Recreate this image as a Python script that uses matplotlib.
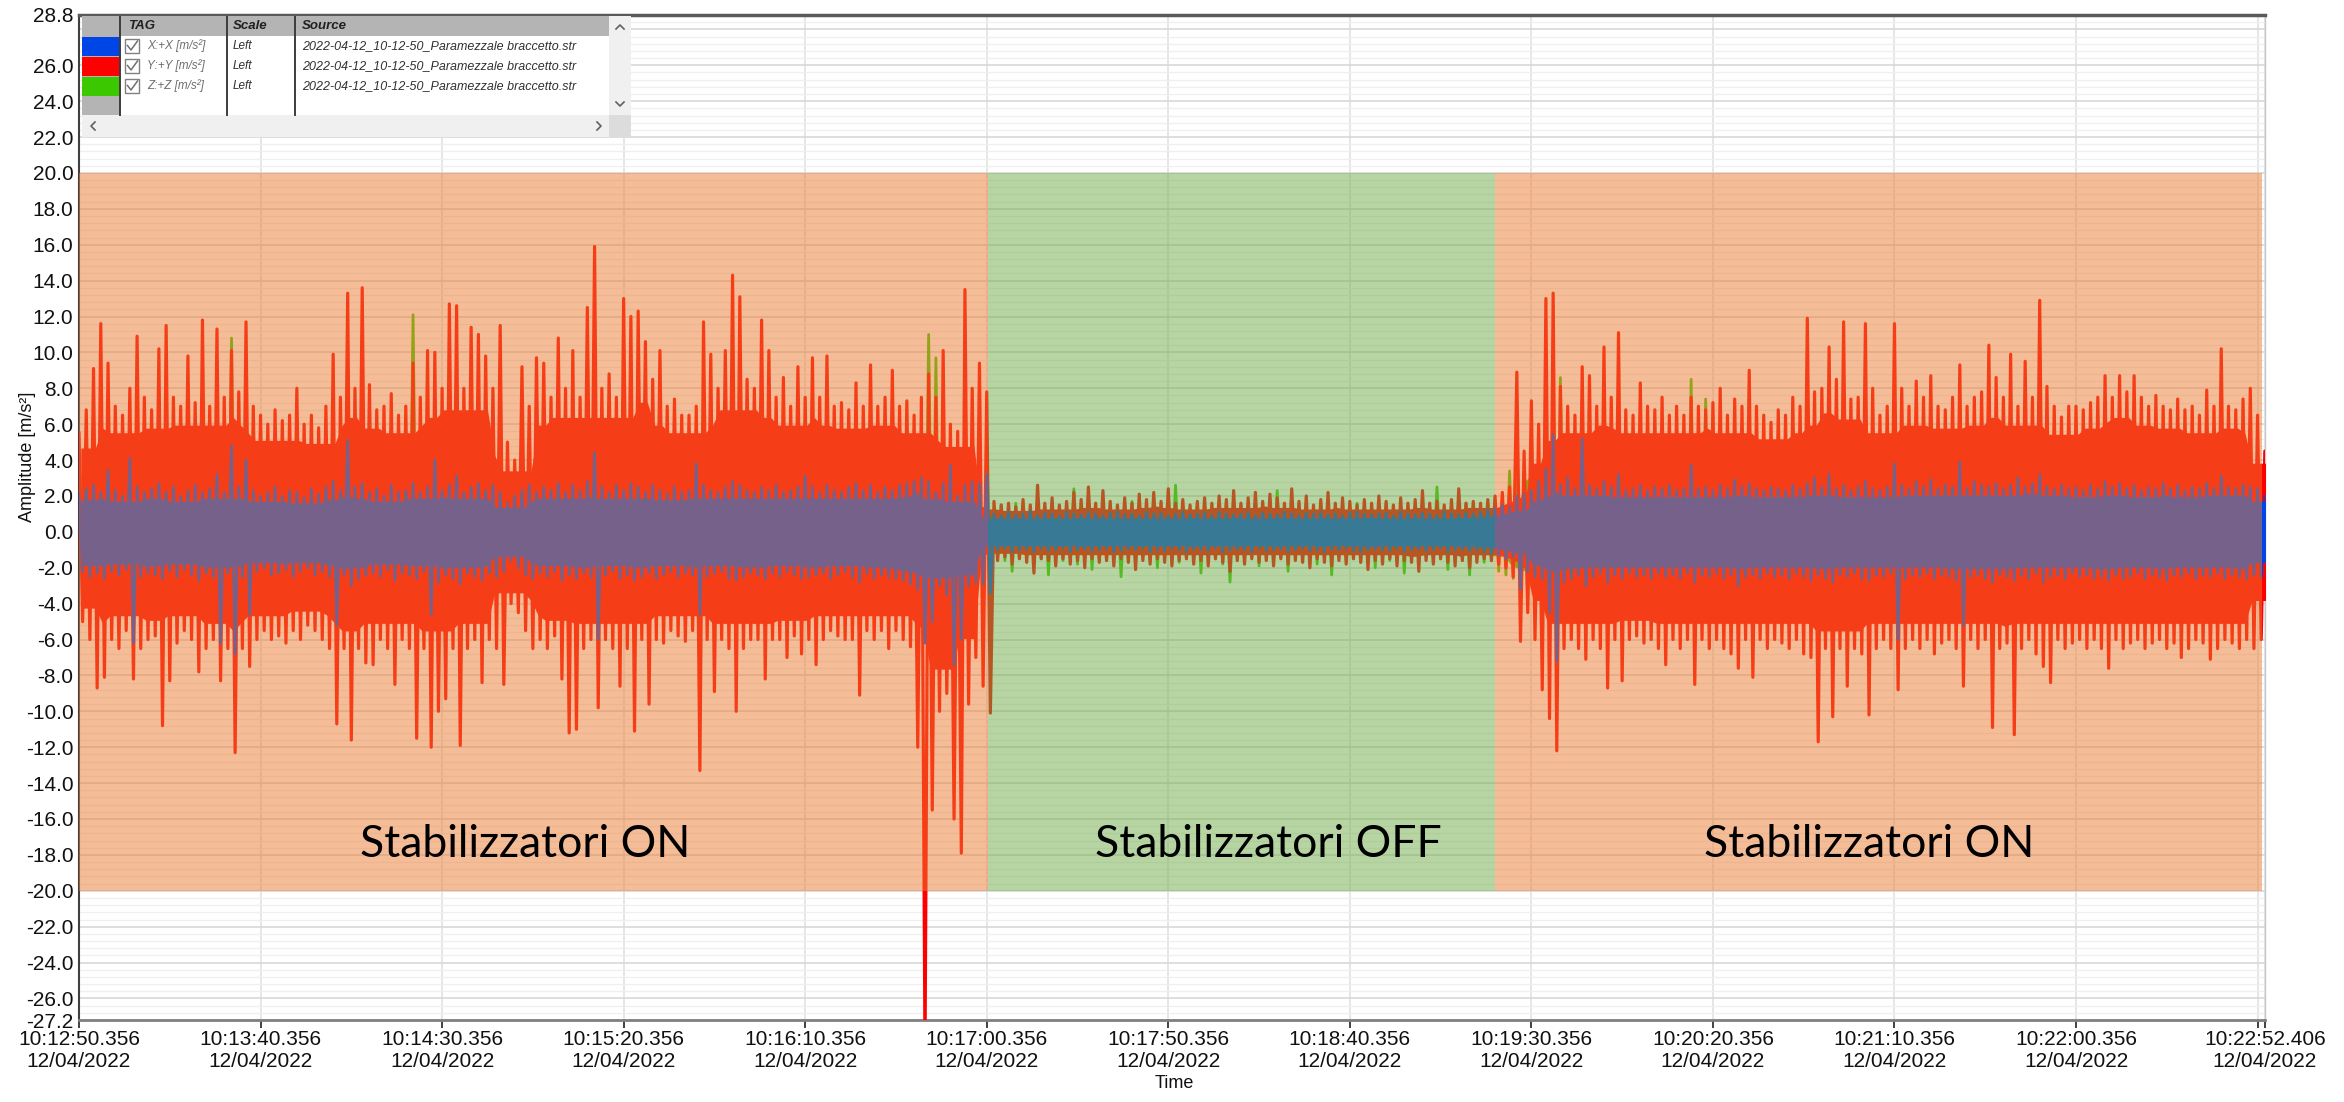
import matplotlib.pyplot as plt
import numpy as np
from matplotlib.patches import Rectangle

plt.rcParams['font.family'] = ['Liberation Sans', 'DejaVu Sans']

# Peak envelopes of the three accelerometer channels, one value per 2 s bin
# (t = 0 s at 10:12:50.356). Units: m/s^2.
bin_seconds = 2.0

y_upper = [
    5.5, 6.8, 9.1, 11.6, 9.4, 7.0, 6.5, 8.0, 10.9, 7.5, 6.8, 10.2, 11.5, 7.5, 7.0, 9.8, 7.2, 11.8, 7.0, 11.3,
    7.5, 10.1, 7.8, 11.7, 7.0, 6.5, 6.0, 6.8, 6.2, 6.5, 8.0, 6.0, 6.5, 5.8, 7.0, 9.9, 7.5, 13.3, 8.0, 13.6,
    8.2, 6.8, 7.0, 7.7, 6.5, 7.0, 9.4, 7.5, 10.1, 10.0, 8.0, 12.7, 12.6, 8.0, 11.4, 11.0, 9.8, 8.0, 11.5, 5.0,
    4.0, 9.2, 7.0, 9.7, 9.4, 7.5, 10.8, 8.0, 10.1, 7.5, 12.5, 15.9, 8.0, 8.8, 7.5, 13.0, 12.0, 12.3, 10.6, 8.5,
    10.1, 7.0, 7.4, 6.5, 6.5, 7.0, 11.7, 9.9, 8.0, 10.1, 14.3, 13.1, 8.5, 8.0, 11.8, 10.1, 7.5, 8.6, 7.0, 9.2,
    7.5, 9.7, 7.5, 9.8, 7.0, 7.2, 6.8, 8.3, 7.0, 9.3, 7.0, 7.5, 9.0, 7.0, 7.3, 6.5, 7.5, 8.8, 7.5, 10.1,
    6.0, 5.6, 13.5, 8.0, 9.4, 7.8, 1.7, 1.5, 1.6, 1.4, 1.8, 1.5, 2.6, 1.6, 1.9, 1.5, 1.7, 2.2, 1.8, 2.5,
    1.6, 2.3, 1.7, 1.5, 1.9, 1.6, 2.1, 1.8, 2.2, 1.7, 2.4, 1.6, 1.8, 1.5, 1.7, 1.9, 1.6, 2.0, 1.8, 2.3,
    1.6, 1.9, 2.2, 1.7, 2.1, 1.9, 1.6, 2.4, 1.7, 2.0, 1.5, 1.8, 2.2, 1.6, 1.9, 1.7, 1.5, 1.8, 1.6, 2.0,
    1.7, 1.5, 1.9, 1.6, 1.8, 2.3, 1.6, 1.7, 1.5, 1.8, 2.4, 1.6, 1.7, 1.6, 1.8, 2.0, 2.2, 2.5, 8.9, 4.5,
    7.3, 6.0, 13.0, 13.3, 8.1, 7.0, 6.5, 9.2, 8.7, 7.0, 10.3, 7.5, 11.1, 6.8, 6.5, 8.3, 7.0, 6.8, 7.5, 6.5,
    7.0, 6.5, 7.5, 7.0, 6.8, 7.2, 8.0, 6.5, 7.4, 7.0, 9.0, 7.0, 6.5, 6.1, 6.8, 6.5, 7.5, 7.0, 11.9, 7.8,
    8.0, 10.3, 8.5, 11.7, 7.4, 7.5, 11.6, 8.0, 6.5, 7.0, 11.6, 8.0, 7.0, 8.4, 7.5, 8.7, 7.0, 6.8, 7.5, 9.3,
    7.0, 7.5, 7.8, 10.4, 8.6, 7.5, 9.9, 7.0, 9.5, 7.5, 12.9, 8.1, 7.0, 6.4, 7.0, 7.0, 6.8, 7.2, 7.5, 8.7,
    7.5, 8.7, 7.8, 8.7, 7.5, 7.0, 7.6, 7.0, 6.8, 7.4, 6.8, 7.0, 6.5, 7.9, 7.0, 10.2, 7.0, 6.8, 7.4, 8.0,
    6.5, 4.5,
]
y_lower = [
    -5.0, -6.0, -8.7, -8.1, -6.0, -6.5, -5.5, -8.2, -6.5, -6.0, -5.8, -10.8, -8.3, -6.2, -5.5, -6.0, -7.8, -6.5, -6.0, -8.3,
    -6.5, -12.3, -6.5, -7.5, -6.0, -5.5, -6.0, -5.8, -6.2, -5.5, -6.0, -5.2, -5.5, -6.0, -6.5, -10.7, -6.5, -11.6, -6.5, -7.3,
    -7.4, -6.0, -6.5, -8.5, -6.0, -6.5, -11.5, -6.5, -12.0, -10.0, -9.3, -6.5, -11.9, -6.5, -6.0, -8.4, -6.0, -6.5, -8.5, -4.0,
    -4.5, -5.5, -6.5, -6.0, -6.5, -5.8, -8.2, -11.2, -11.0, -6.5, -6.0, -9.8, -6.0, -6.5, -8.6, -6.5, -11.1, -6.0, -9.6, -6.0,
    -6.2, -5.5, -5.8, -6.1, -5.5, -13.3, -6.0, -8.9, -6.0, -6.5, -10.0, -6.5, -6.0, -6.0, -8.2, -6.0, -6.0, -7.0, -5.8, -6.8,
    -6.0, -7.4, -6.0, -5.5, -5.8, -6.0, -6.0, -9.1, -5.5, -6.0, -5.5, -6.5, -5.5, -6.0, -6.4, -12.0, -29.0, -15.5, -10.0, -9.0,
    -16.0, -17.9, -9.6, -7.0, -8.6, -10.1, -1.6, -1.4, -1.8, -1.5, -1.7, -2.3, -1.5, -1.6, -1.9, -1.5, -1.8, -1.6, -2.0, -1.5,
    -1.7, -1.6, -1.9, -1.5, -1.7, -2.1, -1.6, -1.8, -1.5, -1.7, -1.9, -1.6, -1.5, -1.8, -1.6, -1.9, -1.5, -1.7, -2.2, -1.6,
    -1.8, -1.5, -1.7, -1.6, -1.9, -1.5, -1.8, -1.6, -1.7, -2.0, -1.5, -1.7, -1.9, -1.6, -1.8, -1.5, -1.7, -2.1, -1.6, -1.8,
    -1.5, -1.9, -1.6, -1.7, -2.2, -1.6, -1.8, -1.5, -1.7, -1.9, -1.6, -2.0, -1.7, -1.5, -1.6, -1.8, -2.0, -2.5, -6.1, -4.5,
    -6.0, -8.8, -10.4, -12.2, -6.5, -6.0, -6.5, -7.1, -6.0, -6.5, -8.7, -6.0, -8.3, -6.0, -5.8, -6.2, -6.0, -6.5, -7.4, -6.0,
    -6.5, -6.0, -8.5, -6.0, -6.5, -6.0, -6.5, -6.8, -7.6, -6.0, -8.1, -6.0, -6.5, -6.0, -6.2, -6.5, -6.0, -6.8, -7.0, -11.7,
    -6.5, -10.3, -6.5, -8.6, -6.5, -6.8, -10.2, -6.5, -6.0, -6.5, -8.8, -6.5, -6.0, -6.5, -6.0, -6.8, -6.2, -6.0, -6.5, -8.6,
    -6.0, -6.5, -6.0, -10.9, -6.5, -6.2, -11.3, -6.5, -6.0, -6.8, -7.5, -8.4, -6.0, -6.5, -6.2, -6.0, -6.5, -6.0, -6.5, -7.6,
    -6.0, -6.5, -6.2, -6.0, -6.5, -6.2, -6.0, -6.5, -6.2, -7.0, -6.5, -6.0, -6.2, -7.1, -6.5, -6.0, -6.2, -6.5, -6.0, -6.5,
    -6.0, -4.5,
]
x_upper = [
    2.1, 2.4, 2.6, 2.2, 3.4, 2.3, 2.0, 4.1, 2.5, 2.2, 2.4, 2.7, 2.2, 2.5, 2.0, 2.3, 2.6, 2.2, 2.4, 3.2,
    2.2, 4.8, 2.5, 4.0, 2.3, 2.0, 2.2, 2.5, 2.0, 2.3, 2.2, 1.9, 2.4, 2.1, 2.5, 2.8, 2.3, 5.1, 2.5, 2.7,
    2.2, 2.4, 2.0, 2.6, 2.2, 2.3, 2.7, 2.2, 2.5, 4.0, 2.3, 2.6, 3.1, 2.2, 2.5, 2.7, 2.3, 2.6, 2.2, 1.6,
    2.0, 2.3, 2.6, 2.2, 2.5, 2.3, 2.7, 2.2, 2.6, 2.3, 2.8, 4.4, 2.5, 2.2, 2.6, 2.3, 2.7, 2.5, 2.2, 2.6,
    2.3, 2.1, 2.5, 2.2, 2.3, 3.8, 2.6, 2.3, 2.2, 2.5, 2.8, 2.6, 2.3, 2.2, 2.5, 2.3, 2.6, 2.2, 2.3, 2.5,
    3.1, 2.5, 2.2, 2.6, 2.3, 2.2, 2.5, 2.7, 2.3, 2.6, 2.2, 2.5, 2.3, 2.6, 2.7, 2.8, 3.0, 2.8, 2.2, 2.7,
    3.7, 2.0, 2.6, 2.8, 2.7, 3.2, 1.0, 0.9, 1.1, 0.95, 1.0, 1.15, 0.9, 1.05, 1.0, 0.9, 1.1, 1.0, 0.95, 1.1,
    1.0, 0.9, 1.05, 1.1, 0.95, 1.0, 0.9, 1.1, 1.0, 1.05, 0.9, 1.0, 1.1, 0.95, 1.0, 1.05, 0.9, 1.1, 1.0, 0.95,
    1.0, 1.1, 0.9, 1.05, 1.0, 0.95, 1.1, 1.0, 0.9, 1.05, 1.0, 1.1, 0.95, 1.0, 0.9, 1.05, 1.1, 1.0, 0.95, 1.0,
    1.05, 0.9, 1.1, 1.0, 0.95, 1.05, 1.0, 0.9, 1.1, 1.0, 0.95, 1.05, 1.0, 1.1, 1.2, 1.3, 1.5, 1.4, 2.0, 2.1,
    2.3, 2.8, 3.5, 5.4, 2.6, 3.0, 2.4, 5.2, 2.6, 2.4, 2.8, 2.5, 3.2, 2.3, 2.4, 2.6, 2.3, 2.5, 2.4, 2.6,
    2.3, 2.4, 3.7, 2.4, 2.5, 2.3, 2.6, 2.4, 2.9, 2.5, 2.7, 2.4, 2.3, 2.5, 2.4, 2.3, 2.6, 2.4, 2.7, 3.0,
    2.5, 3.2, 2.4, 2.6, 2.3, 2.5, 2.8, 2.4, 2.3, 2.5, 3.8, 2.6, 2.4, 2.8, 2.5, 2.9, 2.4, 2.6, 2.5, 3.9,
    2.4, 2.8, 2.6, 2.5, 2.7, 2.4, 2.6, 3.0, 2.5, 2.7, 3.2, 2.5, 2.4, 2.6, 2.4, 2.5, 2.3, 2.6, 2.4, 2.8,
    2.5, 2.7, 2.4, 2.6, 2.3, 2.5, 2.4, 2.7, 2.4, 2.6, 2.3, 2.5, 2.4, 2.7, 2.4, 3.1, 2.5, 2.4, 2.6, 2.5,
    2.4, 2.0,
]
x_lower = [
    -2.2, -2.5, -2.3, -2.6, -2.2, -2.4, -2.1, -6.2, -2.5, -2.3, -2.4, -2.6, -2.2, -2.5, -2.1, -2.4, -2.7, -2.3, -2.5, -6.2,
    -2.3, -6.8, -2.5, -4.6, -2.2, -2.0, -2.4, -2.3, -2.1, -2.5, -2.2, -2.0, -2.4, -2.2, -2.5, -5.2, -2.4, -3.0, -2.6, -2.4,
    -2.3, -2.5, -2.1, -2.7, -2.3, -2.4, -2.6, -2.2, -4.6, -2.8, -2.4, -2.6, -2.9, -2.3, -2.5, -2.7, -2.3, -2.5, -2.2, -1.6,
    -2.0, -2.4, -2.6, -2.3, -2.5, -2.2, -2.7, -2.4, -2.6, -2.3, -2.5, -6.0, -2.4, -2.2, -2.6, -2.4, -2.7, -2.5, -2.3, -2.6,
    -2.4, -2.2, -2.5, -2.3, -2.4, -4.6, -2.5, -2.3, -2.2, -2.6, -2.7, -2.5, -2.3, -2.4, -2.6, -2.3, -2.5, -2.2, -2.4, -2.6,
    -2.5, -2.4, -2.3, -2.6, -2.4, -2.2, -2.5, -2.8, -2.3, -2.6, -2.4, -2.5, -2.6, -2.7, -2.9, -3.2, -6.2, -5.0, -3.0, -3.5,
    -7.4, -6.0, -3.0, -2.8, -2.9, -3.4, -1.0, -0.9, -1.1, -1.0, -0.95, -1.1, -0.9, -1.05, -1.0, -0.9, -1.1, -1.0, -0.95, -1.05,
    -1.0, -0.9, -1.1, -1.05, -0.95, -1.0, -0.9, -1.1, -1.0, -1.05, -0.9, -1.0, -1.1, -0.95, -1.0, -1.05, -0.9, -1.1, -1.0, -0.95,
    -1.0, -1.1, -0.9, -1.05, -1.0, -0.95, -1.1, -1.0, -0.9, -1.05, -1.0, -1.1, -0.95, -1.0, -0.9, -1.05, -1.1, -1.0, -0.95, -1.0,
    -1.05, -0.9, -1.1, -1.0, -0.95, -1.05, -1.0, -0.9, -1.1, -1.0, -0.95, -1.05, -1.0, -1.1, -1.2, -1.3, -1.5, -1.4, -3.2, -2.2,
    -2.5, -2.6, -4.5, -7.2, -2.8, -2.6, -2.4, -3.0, -2.5, -2.3, -2.8, -2.4, -2.6, -2.3, -2.5, -2.4, -2.6, -2.3, -2.5, -2.4,
    -2.6, -2.3, -2.8, -2.4, -2.5, -2.3, -2.6, -2.4, -3.0, -2.5, -2.4, -2.6, -2.3, -2.5, -2.4, -2.6, -2.3, -2.5, -2.7, -2.4,
    -2.6, -2.8, -2.4, -2.5, -2.3, -2.6, -2.7, -2.4, -2.5, -2.3, -6.0, -2.6, -2.4, -2.5, -2.3, -2.6, -2.4, -2.5, -2.7, -5.2,
    -2.5, -2.4, -2.6, -2.8, -2.4, -2.5, -2.7, -2.4, -2.6, -2.3, -2.8, -2.5, -2.4, -2.6, -2.3, -2.5, -2.4, -2.6, -2.5, -2.7,
    -2.4, -2.6, -2.5, -2.3, -2.6, -2.4, -2.5, -2.7, -2.4, -2.5, -2.3, -2.6, -2.4, -2.5, -2.3, -2.6, -2.4, -2.5, -2.6, -2.4,
    -2.5, -2.0,
]
z_upper = [
    4.0, 4.5, 3.8, 4.2, 4.6, 3.9, 4.1, 4.4, 3.8, 4.2, 4.5, 4.0, 4.3, 3.9, 4.1, 4.4, 3.8, 4.2, 4.0, 4.5,
    4.1, 10.8, 4.0, 4.3, 3.9, 4.2, 4.0, 3.8, 4.1, 4.3, 3.9, 4.0, 4.2, 3.8, 4.1, 4.4, 3.9, 4.2, 4.0, 4.3,
    4.1, 3.9, 4.2, 4.0, 4.3, 3.9, 12.1, 4.0, 4.2, 4.4, 4.0, 4.3, 3.9, 4.1, 4.2, 3.8, 4.0, 4.3, 3.9, 3.0,
    3.5, 4.0, 4.2, 3.9, 4.1, 4.3, 4.0, 4.2, 3.9, 4.4, 4.1, 4.5, 4.0, 4.2, 3.9, 4.3, 4.1, 4.0, 4.2, 3.9,
    4.1, 4.0, 4.2, 3.9, 4.1, 4.3, 4.0, 4.2, 3.9, 4.1, 4.4, 4.0, 4.2, 3.9, 4.1, 4.0, 4.3, 3.9, 4.1, 4.0,
    4.2, 3.9, 4.1, 4.0, 4.3, 3.9, 4.1, 4.2, 4.0, 4.3, 3.9, 4.1, 4.2, 4.0, 4.5, 4.4, 4.6, 11.0, 9.7, 4.5,
    4.2, 4.0, 4.8, 4.5, 4.6, 5.0, 1.3, 1.5, 1.2, 1.6, 1.4, 1.3, 1.7, 1.4, 1.5, 1.2, 1.6, 2.4, 1.4, 1.5,
    1.3, 1.6, 1.4, 1.2, 1.5, 1.7, 1.3, 1.4, 1.6, 1.2, 1.5, 2.6, 1.4, 1.3, 1.6, 1.5, 1.2, 1.4, 1.7, 1.3,
    1.5, 1.4, 1.6, 1.2, 1.5, 2.3, 1.4, 1.3, 1.6, 1.5, 1.2, 1.4, 1.7, 1.3, 1.5, 1.4, 1.6, 1.2, 1.5, 1.4,
    1.6, 1.3, 1.5, 1.4, 1.2, 1.6, 1.4, 2.5, 1.3, 1.5, 1.4, 1.6, 1.5, 1.3, 1.6, 1.8, 1.9, 3.4, 4.0, 3.8,
    4.2, 4.0, 4.5, 4.3, 8.6, 4.1, 4.3, 4.0, 5.4, 4.2, 4.1, 4.4, 4.0, 4.2, 3.9, 4.3, 4.1, 4.0, 4.2, 3.9,
    4.1, 4.0, 8.5, 4.2, 7.4, 4.0, 4.3, 4.1, 3.9, 4.2, 4.0, 4.4, 4.1, 3.9, 4.2, 4.0, 4.3, 4.1, 3.9, 4.2,
    4.0, 4.3, 4.1, 3.9, 4.2, 4.0, 4.4, 4.1, 3.9, 4.2, 4.6, 4.0, 4.3, 4.1, 3.9, 4.2, 4.0, 4.4, 4.1, 3.9,
    4.2, 4.0, 4.3, 4.1, 3.9, 4.2, 4.0, 4.4, 4.1, 3.9, 4.2, 4.0, 4.3, 4.1, 3.9, 4.2, 4.0, 4.4, 4.1, 4.2,
    4.0, 4.3, 4.1, 3.9, 4.2, 4.0, 4.4, 4.1, 3.9, 4.2, 4.0, 4.3, 4.1, 3.9, 4.2, 6.6, 4.0, 4.3, 4.1, 3.9,
    4.0, 3.0,
]
z_lower = [
    -4.0, -4.4, -3.8, -4.2, -4.5, -3.9, -4.1, -4.3, -3.8, -4.2, -4.4, -4.0, -4.2, -3.9, -4.1, -4.3, -3.8, -4.2, -4.0, -4.4,
    -4.1, -4.3, -3.9, -4.2, -4.0, -3.8, -4.1, -4.3, -3.9, -4.0, -4.2, -3.8, -4.1, -4.4, -3.9, -4.2, -4.0, -4.3, -4.1, -3.9,
    -4.2, -4.0, -4.3, -3.9, -4.1, -4.2, -4.4, -4.0, -4.3, -4.1, -3.9, -4.2, -4.0, -4.3, -4.1, -3.8, -4.0, -4.2, -3.9, -3.0,
    -3.5, -4.0, -4.2, -3.9, -4.1, -4.3, -4.0, -4.2, -3.9, -4.4, -4.1, -4.5, -4.0, -4.2, -3.9, -4.3, -4.1, -4.0, -4.2, -3.9,
    -4.1, -4.0, -4.2, -3.9, -4.1, -4.3, -4.0, -4.2, -3.9, -4.1, -4.4, -4.0, -4.2, -3.9, -4.1, -4.0, -4.3, -3.9, -4.1, -4.0,
    -4.2, -3.9, -4.1, -4.0, -4.3, -3.9, -4.1, -4.2, -4.0, -4.3, -3.9, -4.1, -4.2, -4.0, -4.5, -4.4, -4.6, -4.8, -4.5, -4.4,
    -4.2, -4.0, -4.6, -4.4, -4.5, -4.8, -1.4, -1.6, -2.2, -1.5, -1.4, -1.7, -1.5, -2.4, -1.4, -1.6, -1.5, -1.8, -1.4, -2.1,
    -1.5, -1.6, -1.4, -2.5, -1.5, -1.7, -1.4, -1.6, -2.0, -1.5, -1.4, -1.7, -1.5, -1.6, -2.3, -1.4, -1.5, -1.8, -2.8, -1.5,
    -1.6, -1.4, -1.9, -1.5, -1.7, -1.4, -2.2, -1.5, -1.6, -1.4, -1.8, -1.5, -2.4, -1.4, -1.6, -1.5, -1.7, -1.4, -2.0, -1.5,
    -1.6, -1.4, -2.3, -1.5, -1.7, -1.4, -1.6, -1.5, -2.1, -1.4, -1.6, -2.4, -1.5, -1.7, -1.6, -2.2, -2.4, -2.6, -4.0, -3.8,
    -4.2, -4.0, -4.5, -4.3, -4.4, -4.1, -4.3, -4.0, -4.2, -4.2, -4.1, -4.4, -4.0, -4.2, -3.9, -4.3, -4.1, -4.0, -4.2, -3.9,
    -4.1, -4.0, -4.3, -4.2, -4.0, -4.0, -4.3, -4.1, -3.9, -4.2, -4.0, -4.4, -4.1, -3.9, -4.2, -4.0, -4.3, -4.1, -3.9, -4.2,
    -4.0, -4.3, -4.1, -3.9, -4.2, -4.0, -4.4, -4.1, -3.9, -4.2, -4.6, -4.0, -4.3, -4.1, -3.9, -4.2, -4.0, -4.4, -4.1, -3.9,
    -4.2, -4.0, -4.3, -4.1, -3.9, -4.2, -4.0, -4.4, -4.1, -3.9, -4.2, -4.0, -4.3, -4.1, -3.9, -4.2, -4.0, -4.4, -4.1, -4.2,
    -4.0, -4.3, -4.1, -3.9, -4.2, -4.0, -4.4, -4.1, -3.9, -4.2, -4.0, -4.3, -4.1, -3.9, -4.2, -4.1, -4.0, -4.3, -4.1, -3.9,
    -4.0, -3.0,
]

# Channel table
series_tags = ["X:+X [m/s²]", "Y:+Y [m/s²]", "Z:+Z [m/s²]"]
series_colors = ["#0046E6", "#FF0000", "#3CC800"]
series_scale = ["Left", "Left", "Left"]
series_source = "2022-04-12_10-12-50_Paramezzale braccetto.str"

# Time axis
t_end = 602.05
tick_seconds = [0, 50, 100, 150, 200, 250, 300, 350, 400, 450, 500, 550, 600, 602.05]
tick_times = ["10:12:50.356", "10:13:40.356", "10:14:30.356", "10:15:20.356",
              "10:16:10.356", "10:17:00.356", "10:17:50.356", "10:18:40.356",
              "10:19:30.356", "10:20:20.356", "10:21:10.356", "10:22:00.356",
              "", "10:22:52.406"]
tick_date = "12/04/2022"

# Amplitude axis
y_min, y_max = -27.2, 28.8
y_tick_values = [28.8, 28.0, 26.0, 24.0, 22.0, 20.0, 18.0, 16.0, 14.0, 12.0, 10.0, 8.0, 6.0,
                 4.0, 2.0, 0.0, -2.0, -4.0, -6.0, -8.0, -10.0, -12.0, -14.0, -16.0, -18.0,
                 -20.0, -22.0, -24.0, -26.0, -27.2]
y_tick_labels = ["28.8", "", "26.0", "24.0", "22.0", "20.0", "18.0", "16.0", "14.0", "12.0",
                 "10.0", "8.0", "6.0", "4.0", "2.0", "0.0", "-2.0", "-4.0", "-6.0", "-8.0",
                 "-10.0", "-12.0", "-14.0", "-16.0", "-18.0", "-20.0", "-22.0", "-24.0",
                 "-26.0", "-27.2"]

# Stabiliser phases
phase_edges = [0.0, 250.3, 390.0, 601.3]
phase_labels = ["Stabilizzatori ON", "Stabilizzatori OFF", "Stabilizzatori ON"]
phase_colors = ["#ED7D31", "#70AD47", "#ED7D31"]
phase_label_t = [123.0, 327.5, 493.0]
phase_label_y = -17.4
phase_band = (-20.0, 20.0)

W, H = 2344, 1102


def zigzag(upper, lower, step):
    """Interleave bin maxima and minima into one trace (oscilloscope style)."""
    upper = np.asarray(upper, dtype=float)
    lower = np.asarray(lower, dtype=float)
    t = np.arange(len(upper)) * step
    xs = np.empty(2 * len(upper))
    ys = np.empty(2 * len(upper))
    xs[0::2], xs[1::2] = t, t + step / 2
    ys[0::2], ys[1::2] = upper, lower
    return xs, ys


def solid_core(upper, lower, window=5, depth=0.85):
    """Densely filled part of the trace: a fraction of the lowest peak in a short window."""
    upper = np.asarray(upper, dtype=float)
    lower = np.asarray(lower, dtype=float)
    half = window // 2
    up = np.pad(upper, half, mode='edge')
    lo = np.pad(lower, half, mode='edge')
    core_up = np.array([up[i:i + window].min() for i in range(len(upper))])
    core_lo = np.array([lo[i:i + window].max() for i in range(len(lower))])
    return core_up * depth, core_lo * depth


def draw_channel_panel(fig):
    L, R, T, B = 82, 631, 16, 137
    pax = fig.add_axes([L / W, 1 - B / H, (R - L) / W, (B - T) / H], zorder=10)
    pax.set_xlim(L, R)
    pax.set_ylim(B, T)
    pax.axis('off')

    gray = '#b4b4b4'
    col_x = [120, 227, 295]
    body_bottom, sb_x = 115, 609
    pax.add_patch(Rectangle((L, T), R - L, B - T, fc='white', ec='none'))
    pax.add_patch(Rectangle((L, T), sb_x - L, 20, fc=gray, ec='none'))
    pax.add_patch(Rectangle((L, T), col_x[0] - L, body_bottom - T, fc=gray, ec='none'))

    row_top = [36, 56, 76]
    for i, tag in enumerate(series_tags):
        yc = row_top[i] + 10
        pax.add_patch(Rectangle((L, row_top[i] + 0.5), col_x[0] - L, 19,
                                fc=series_colors[i], ec='none'))
        pax.add_patch(Rectangle((125, yc - 7), 14, 14, fc='white', ec='#808080', lw=1))
        pax.plot([127.5, 131, 137.5], [yc - 0.5, yc + 4, yc - 5], color='#707070', lw=1.1)
        pax.text(147, yc, tag, fontsize=8.5, fontstyle='italic', color='#6e6e6e', va='center')
        pax.text(233, yc, series_scale[i], fontsize=8.5, fontstyle='italic',
                 color='#303030', va='center')
        pax.text(302, yc, series_source, fontsize=9, fontstyle='italic',
                 color='#303030', va='center')

    for x in col_x:
        pax.plot([x, x], [T, body_bottom], color='#3c3c3c', lw=1.4)

    for x, s in [(128, 'TAG'), (233, 'Scale'), (302, 'Source')]:
        pax.text(x, T + 10, s, fontsize=9.5, fontweight='bold', fontstyle='italic',
                 color='#202020', va='center')

    # scrollbars
    pax.add_patch(Rectangle((sb_x, T), R - sb_x, body_bottom - T, fc='#f0f0f0', ec='none'))
    pax.add_patch(Rectangle((L, body_bottom), sb_x - L, B - body_bottom, fc='#f0f0f0', ec='none'))
    pax.add_patch(Rectangle((sb_x, body_bottom), R - sb_x, B - body_bottom, fc='#dcdcdc', ec='none'))
    arrow = dict(color='#606060', lw=1.2)
    pax.plot([616, 620, 624], [29, 25, 29], **arrow)
    pax.plot([616, 620, 624], [102, 106, 102], **arrow)
    pax.plot([95, 91, 95], [122, 126, 130], **arrow)
    pax.plot([597, 601, 597], [122, 126, 130], **arrow)


fig = plt.figure(figsize=(W / 100, H / 100), dpi=100)
ax = fig.add_axes([79 / W, 1 - 1020 / H, (2265 - 79) / W, (1020 - 15) / H])

# traces: Z underneath, then Y, X on top; solid core plus peak strokes
for (up, lo), color, z, lw in [((z_upper, z_lower), series_colors[2], 2, 2.0),
                               ((y_upper, y_lower), series_colors[1], 3, 2.3),
                               ((x_upper, x_lower), series_colors[0], 4, 2.0)]:
    t_bins = np.arange(len(up)) * bin_seconds
    core_up, core_lo = solid_core(up, lo)
    ax.fill_between(t_bins + bin_seconds / 4, core_lo, core_up, color=color, lw=0, zorder=z)
    xs, ys = zigzag(up, lo, bin_seconds)
    ax.plot(xs, ys, color=color, lw=lw, zorder=z)

# translucent phase bands and their labels
for i, label in enumerate(phase_labels):
    t0, t1 = phase_edges[i], phase_edges[i + 1]
    ax.add_patch(Rectangle((t0, phase_band[0]), t1 - t0, phase_band[1] - phase_band[0],
                           facecolor=phase_colors[i], alpha=0.5, lw=0, zorder=5))
    ax.text(phase_label_t[i], phase_label_y, label, family=['Lato', 'DejaVu Sans'],
            fontsize=32, ha='center', va='center', color='black', zorder=6)

ax.set_xlim(0, t_end)
ax.set_ylim(y_min, y_max)

ax.set_xticks(tick_seconds)
ax.set_xticklabels([f"{s}\n{tick_date}" if s else "" for s in tick_times])
ax.set_yticks(y_tick_values)
ax.set_yticklabels(y_tick_labels)
ax.set_yticks(np.arange(y_min, y_max + 0.01, 0.4), minor=True)

ax.set_axisbelow(True)
ax.grid(axis='x', which='major', color='#e2e2e2', lw=1.2)
ax.grid(axis='y', which='major', color='#d8d8d8', lw=1.2)
ax.grid(axis='y', which='minor', color='#efefef', lw=0.9)

ax.tick_params(axis='x', which='major', length=6, width=1.3, color='#333333',
               labelsize=15, pad=1, labelcolor='#111111')
ax.tick_params(axis='y', which='both', length=0, labelsize=15, pad=4, labelcolor='#111111')

ax.spines['top'].set_color('#5a5a5a')
ax.spines['top'].set_linewidth(2.5)
ax.spines['left'].set_color('#404040')
ax.spines['left'].set_linewidth(1.5)
ax.spines['bottom'].set_color('#808080')
ax.spines['bottom'].set_linewidth(2.0)
ax.spines['right'].set_color('#c8c8c8')
ax.spines['right'].set_linewidth(1.0)

fig.text(27 / W, 1 - 457 / H, "Amplitude [m/s²]", rotation=90, fontsize=13,
         ha='center', va='center', color='#111111')
fig.text(1174 / W, 1 - 1084 / H, "Time", fontsize=13, ha='center', va='center',
         color='#111111')

draw_channel_panel(fig)

fig.savefig('out.png', dpi=100)
